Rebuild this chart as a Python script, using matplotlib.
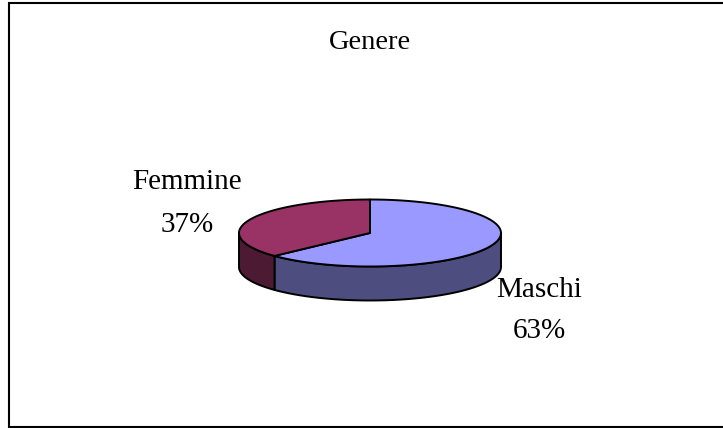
import numpy as np
from matplotlib import pyplot as plt
from matplotlib.patches import Polygon, Rectangle

plt.rcParams['font.family'] = ['Liberation Serif', 'DejaVu Serif']

title = "Genere"
labels = ["Maschi", "Femmine"]
values = [63, 37]
top_colors = ["#9999ff", "#993366"]
side_colors = ["#4d4d80", "#4d1a33"]

# layout in pixels (figure is 723x428)
cx, cy = 370, 233
rx, ry = 131, 33.5
depth = 34
# label anchors (x centre, baseline of name, baseline of percent)
label_pos = [(539.5, 297, 338), (187, 189, 232)]


def arc(a0, a1, dy=0, n=80):
    t = np.radians(np.linspace(a0, a1, n))
    return np.column_stack([cx + rx * np.cos(t), cy + dy - ry * np.sin(t)])


def pie_3d(ax):
    fracs = np.array(values, dtype=float) / sum(values)
    # slices go clockwise from 12 o'clock
    bounds = []
    start = 90.0
    for f in fracs:
        end = start - 360 * f
        bounds.append((end, start))
        start = end

    # side faces: only the front half (180..360 deg) is visible
    for (a0, a1), col in zip(bounds, side_colors):
        lo, hi = a0 % 360, a1 % 360
        if hi <= lo:
            hi += 360
        s0, s1 = max(lo, 180), min(hi, 360)
        if s1 <= s0:
            continue
        top = arc(s0, s1)
        bot = arc(s1, s0, dy=depth)
        ax.add_patch(Polygon(np.vstack([top, bot]), closed=True, facecolor=col,
                             edgecolor="black", lw=1.4, joinstyle="round"))

    # top faces
    for (a0, a1), col in zip(bounds, top_colors):
        pts = np.vstack([[cx, cy], arc(a0, a1)])
        ax.add_patch(Polygon(pts, closed=True, facecolor=col,
                             edgecolor="black", lw=1.4, joinstyle="round"))


fig = plt.figure(figsize=(7.23, 4.28), dpi=100)
ax = fig.add_axes([0, 0, 1, 1])
ax.set_xlim(0, 723)
ax.set_ylim(428, 0)
ax.axis("off")

ax.add_patch(Rectangle((8.5, 2.5), 740, 424, facecolor="white",
                       edgecolor="black", lw=1.5))

pie_3d(ax)

ax.text(370, 49, title, ha="center", va="baseline", fontsize=20.5)
for lab, v, (x, y1, y2) in zip(labels, values, label_pos):
    ax.text(x, y1, lab, ha="center", va="baseline", fontsize=21)
    ax.text(x, y2, f"{round(v / sum(values) * 100)}%", ha="center",
            va="baseline", fontsize=21)

fig.savefig("out.png", dpi=100)
